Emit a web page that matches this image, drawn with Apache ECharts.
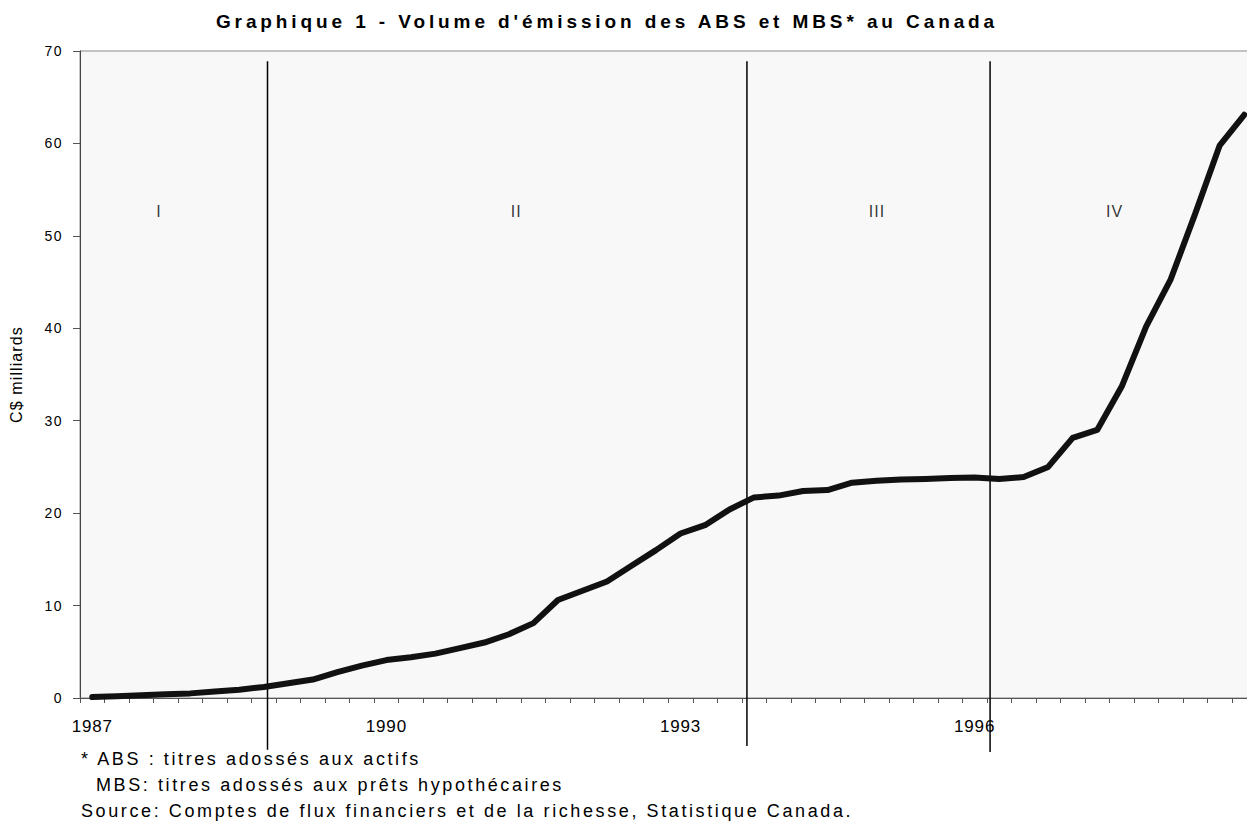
<!DOCTYPE html>
<html>
<head>
<meta charset="utf-8">
<script src="https://cdn.jsdelivr.net/npm/echarts@6/dist/echarts.min.js"></script>
<style>
html,body{margin:0;padding:0;background:#fff;}
#chart{width:1247px;height:824px;}
#chart text[style*="19px"]{letter-spacing:3.9px;}
#chart text[style*="18px"]{letter-spacing:2.6px;}
#chart text[style*="17px"]{letter-spacing:0.8px;}
#chart text[style*="16px"]{letter-spacing:1.1px;}
#chart text[style*="14px"]{letter-spacing:1.5px;}
</style>
</head>
<body>
<div id="chart"></div>
<script>
// ---- data ----
const chartTitle = "Graphique 1 - Volume d'émission des ABS et MBS* au Canada";
const years = [1987, 1988, 1989, 1990, 1991, 1992, 1993, 1994, 1995, 1996, 1997, 1998];
const quarters = ['T1', 'T2', 'T3', 'T4'];
const categories = years.flatMap(y => quarters.map(q => y + q));
const tickLabels = ['1987', '1990', '1993', '1996'];
const volume = [0.1, 0.2, 0.3, 0.4, 0.5, 0.7, 0.9, 1.2, 1.6, 2.0, 2.8, 3.5,
                4.1, 4.4, 4.8, 5.4, 6.0, 6.9, 8.1, 10.6, 11.6, 12.6, 14.3, 16.0,
                17.8, 18.7, 20.4, 21.7, 21.9, 22.4, 22.5, 23.3, 23.5, 23.65, 23.7, 23.8,
                23.85, 23.7, 23.9, 25.0, 28.15, 29.0, 33.7, 40.2, 45.3, 52.4, 59.8, 63.1];
const yAxisName = 'C$ milliards';
const periodNames = ['I', 'II', 'III', 'IV'];
const periodPos = [2.72, 17.3, 32.02, 41.71];
const periodLabelY = 52.6;
const dividerPos = [7.15, 26.71, 36.63];
const dividerTop = 68.9;
const dividerBottom = [-5.6, -5.2, -5.85];
const footnotes = [
  '* ABS : titres adossés aux actifs',
  'MBS: titres adossés aux prêts hypothécaires',
  'Source: Comptes de flux financiers et de la richesse, Statistique Canada.'
];

const FONT = 'Liberation Sans, Arial, sans-serif';
const chart = echarts.init(document.getElementById('chart'), null, {renderer: 'svg'});

chart.setOption({
  backgroundColor: '#ffffff',
  animation: false,
  title: [
    {text: chartTitle, left: 607, top: 12, textAlign: 'center', padding: 0,
     textStyle: {fontSize: 19, fontWeight: 'bold', fontFamily: FONT, color: '#000'}},
    {text: footnotes[0], left: 81, top: 750, padding: 0,
     textStyle: {fontSize: 18, fontWeight: 'normal', fontFamily: FONT, color: '#000'}},
    {text: footnotes[1], left: 96, top: 776, padding: 0,
     textStyle: {fontSize: 18, fontWeight: 'normal', fontFamily: FONT, color: '#000'}},
    {text: footnotes[2], left: 81, top: 802, padding: 0,
     textStyle: {fontSize: 18, fontWeight: 'normal', fontFamily: FONT, color: '#000'}}
  ],
  grid: {
    left: 80, top: 51, width: 1176.5, height: 647,
    show: true, backgroundColor: '#f8f8f8', borderColor: '#888', borderWidth: 1,
    containLabel: false, outerBoundsMode: 'none'
  },
  xAxis: [
    {
      type: 'category', data: categories, boundaryGap: true,
      axisLine: {show: true, onZero: false, lineStyle: {color: '#555', width: 1}},
      axisTick: {show: true, interval: 0, length: 5, lineStyle: {color: '#555'}},
      axisLabel: {
        interval: (i) => tickLabels.includes(categories[i].slice(0, 4)) && categories[i].endsWith('T1'),
        formatter: (v) => v.slice(0, 4),
        fontSize: 17, color: '#000', fontFamily: FONT, margin: 20
      },
      splitLine: {show: false}
    },
    {
      type: 'value', min: -0.5, max: 47.5, show: false
    }
  ],
  yAxis: {
    type: 'value', min: 0, max: 70, interval: 10,
    name: yAxisName, nameLocation: 'middle', nameGap: 56, nameRotate: 90,
    nameTextStyle: {fontSize: 16, color: '#000', fontFamily: FONT},
    axisLine: {show: true, onZero: false, lineStyle: {color: '#444', width: 1}},
    axisTick: {show: true, length: 7, lineStyle: {color: '#555'}},
    axisLabel: {fontSize: 14, color: '#000', fontFamily: FONT, margin: 17},
    splitLine: {show: false}
  },
  series: [
    {
      type: 'line', data: volume, xAxisIndex: 0, yAxisIndex: 0,
      symbol: 'none', smooth: false, clip: false,
      lineStyle: {color: '#111', width: 6, cap: 'round', join: 'round'},
      z: 4
    },
    {
      type: 'custom', xAxisIndex: 1, yAxisIndex: 0, clip: false, silent: true,
      data: dividerPos.map((x, i) => [x, dividerTop, dividerBottom[i]]),
      encode: {x: 0, y: 1},
      renderItem: (params, api) => {
        const p1 = api.coord([api.value(0), api.value(1)]);
        const p2 = api.coord([api.value(0), api.value(2)]);
        return {type: 'line', shape: {x1: p1[0], y1: p1[1], x2: p2[0], y2: p2[1]},
                style: {stroke: '#000', lineWidth: 1.5}};
      },
      z: 3
    },
    {
      type: 'scatter', xAxisIndex: 1, yAxisIndex: 0, silent: true,
      symbolSize: 1, itemStyle: {color: 'rgba(0,0,0,0)'},
      data: periodPos.map((x, i) => ({value: [x, periodLabelY], name: periodNames[i]})),
      label: {show: true, position: 'inside', formatter: '{b}', fontSize: 16, color: '#000', fontFamily: FONT},
      z: 5
    }
  ]
});
</script>
</body>
</html>
